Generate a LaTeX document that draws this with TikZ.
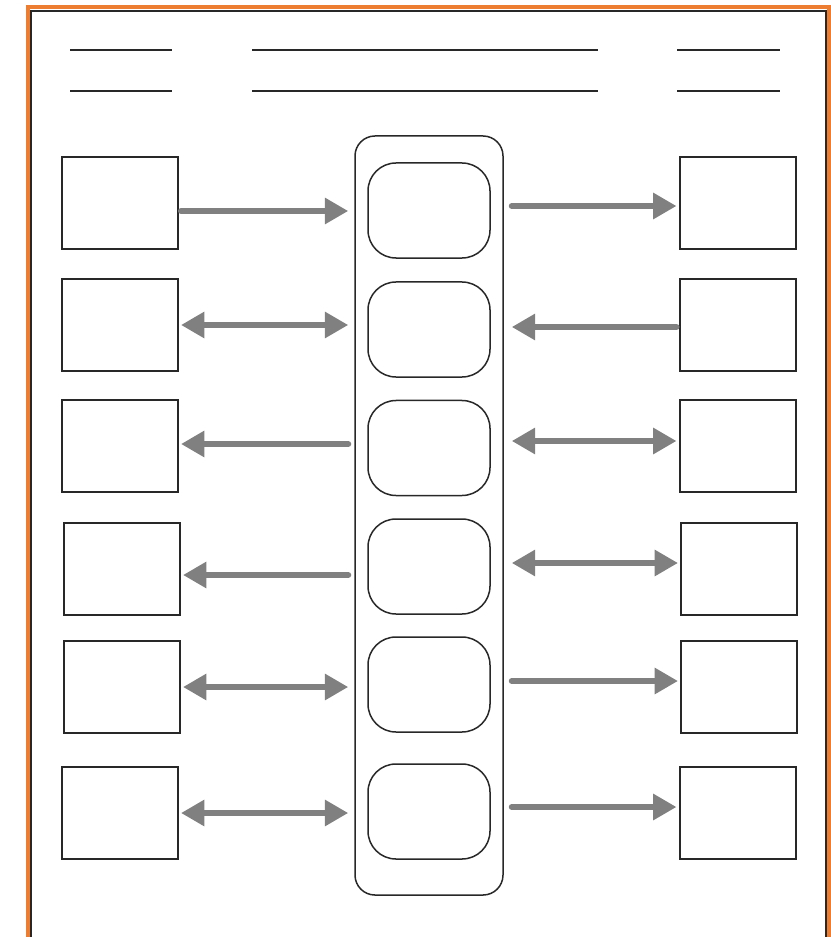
\documentclass[tikz,border=0pt]{standalone}
\usepackage{tikz}
\usetikzlibrary{arrows.meta,positioning,calc}
\definecolor{naranja}{RGB}{237,125,49}
\definecolor{gris}{RGB}{128,128,128}
\definecolor{negro}{RGB}{40,40,40}
\tikzstyle{cuadro} = [rectangle, minimum width=3.48cm, minimum height=2.76cm, draw=negro, line width=0.06cm]
\tikzstyle{redondo} = [rectangle, rounded corners=0.84cm, minimum width=3.66cm, minimum height=2.85cm, draw=negro, line width=0.045cm]
\tikzstyle{columna} = [rectangle, rounded corners=0.6cm, minimum width=4.44cm, minimum height=22.77cm, draw=negro, line width=0.045cm]
\tikzstyle{raya} = [draw=negro, line width=0.06cm]
\tikzstyle{flecha} = [draw=gris, line width=0.18cm, line cap=round, >={Triangle[length=0.7cm,width=0.75cm]}]
\tikzstyle{flechaizq} = [flecha, shorten <=0.06cm, shorten >=0.18cm]
\tikzstyle{flechader} = [flecha, shorten <=0.24cm, shorten >=0.06cm]
\begin{document}
\begin{tikzpicture}[x=0.03cm, y=-0.03cm]
	\useasboundingbox (0,0) rectangle (830,937);
	% Marco
	\draw[naranja, line width=0.12cm] (27.5,940) -- (27.5,7) -- (828.5,7) -- (828.5,940);
	\draw[negro, line width=0.06cm] (30.5,940) -- (30.5,11) -- (826,11) -- (826,940);
	% Rayas
	\draw[raya] (70,50) -- (172,50);
	\draw[raya] (70,91) -- (172,91);
	\draw[raya] (252,50) -- (598,50);
	\draw[raya] (252,91) -- (598,91);
	\draw[raya] (677,50) -- (780,50);
	\draw[raya] (677,91) -- (780,91);
	% Cuadros
	\node (col) [columna] at (429,515.5) {};
	\node (c1) [redondo] at (429,210.5) {};
	\node (c2) [redondo] at (429,329.5) {};
	\node (c3) [redondo] at (429,448) {};
	\node (c4) [redondo] at (429,566.5) {};
	\node (c5) [redondo] at (429,684.5) {};
	\node (c6) [redondo] at (429,811.5) {};
	\node (l1) [cuadro] at (120,203) {};
	\node (l2) [cuadro] at (120,325) {};
	\node (l3) [cuadro] at (120,446) {};
	\node (l4) [cuadro] at (122,568.5) {};
	\node (l5) [cuadro] at (122,686.5) {};
	\node (l6) [cuadro] at (120,813) {};
	\node (r1) [cuadro] at (737.5,203) {};
	\node (r2) [cuadro] at (737.5,325) {};
	\node (r3) [cuadro] at (737.5,446) {};
	\node (r4) [cuadro] at (739,568.5) {};
	\node (r5) [cuadro] at (739,686.5) {};
	\node (r6) [cuadro] at (737.5,813) {};
	% Flechas
	\draw[flechaizq,->] (l1.east |- 0,211) -- (col.west |- 0,211);
	\draw[flechaizq,<->] (l2.east |- 0,325) -- (col.west |- 0,325);
	\draw[flechaizq,<-] (l3.east |- 0,444) -- (col.west |- 0,444);
	\draw[flechaizq,<-] (l4.east |- 0,575) -- (col.west |- 0,575);
	\draw[flechaizq,<->] (l5.east |- 0,687) -- (col.west |- 0,687);
	\draw[flechaizq,<->] (l6.east |- 0,813) -- (col.west |- 0,813);
	\draw[flechader,->] (col.east |- 0,206) -- (r1.west |- 0,206);
	\draw[flechader,<-] (col.east |- 0,327) -- (r2.west |- 0,327);
	\draw[flechader,<->] (col.east |- 0,441) -- (r3.west |- 0,441);
	\draw[flechader,<->] (col.east |- 0,563) -- (r4.west |- 0,563);
	\draw[flechader,->] (col.east |- 0,681) -- (r5.west |- 0,681);
	\draw[flechader,->] (col.east |- 0,807) -- (r6.west |- 0,807);
\end{tikzpicture}
\end{document}
